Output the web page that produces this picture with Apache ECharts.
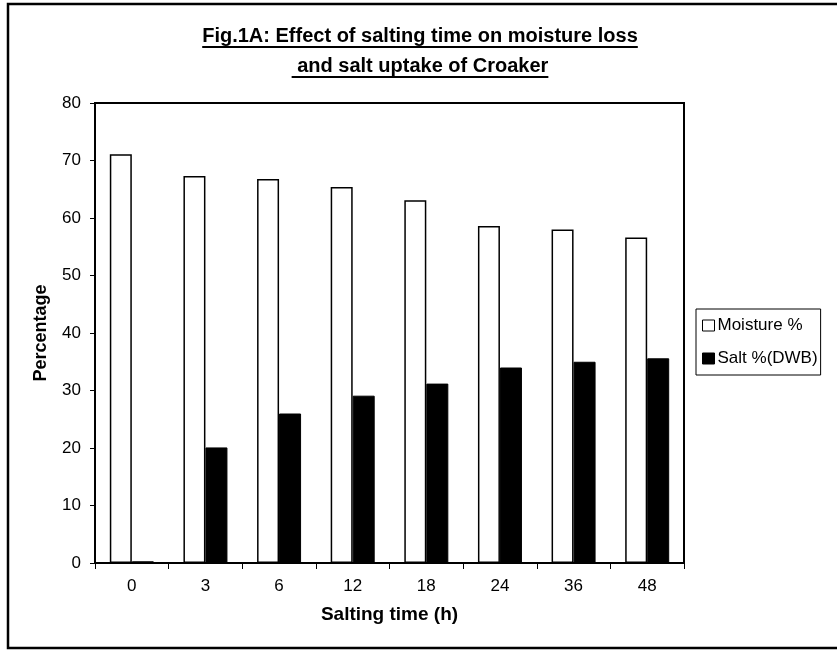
<!DOCTYPE html>
<html>
<head>
<meta charset="utf-8">
<script src="https://cdn.jsdelivr.net/npm/echarts@6/dist/echarts.min.js"></script>
<style>
  html, body { margin: 0; padding: 0; background: #fff; }
  #chart { width: 837px; height: 650px; }
</style>
</head>
<body>
<div id="chart"></div>
<script>
const categories = ['0', '3', '6', '12', '18', '24', '36', '48']
const moisture = [71.1, 67.3, 66.8, 65.4, 63.1, 58.6, 58.0, 56.6]
const salt = [0.3, 20.1, 26.0, 29.1, 31.2, 34.0, 35.0, 35.6]
const titleLines = ['Fig.1A: Effect of salting time on moisture loss', ' and salt uptake of Croaker']

const FONT = '"Liberation Sans", Arial, sans-serif'
const titleFont = 'bold 20px ' + FONT

// width of a title line, for the underline
const measure = (txt) => {
  const ctx = document.createElement('canvas').getContext('2d')
  ctx.font = titleFont
  return ctx.measureText(txt).width
}

const titleCenter = 420
const titleY = [36, 66]
const titleGraphics = []
titleLines.forEach((txt, i) => {
  const w = measure(txt)
  titleGraphics.push({
    type: 'text',
    x: titleCenter,
    y: titleY[i],
    style: {
      text: txt,
      font: titleFont,
      fill: '#000',
      align: 'center',
      verticalAlign: 'middle'
    }
  })
  titleGraphics.push({
    type: 'line',
    shape: { x1: titleCenter - w / 2, y1: titleY[i] + 11, x2: titleCenter + w / 2, y2: titleY[i] + 11 },
    style: { stroke: '#000', lineWidth: 2 }
  })
})

const chart = echarts.init(document.getElementById('chart'))
const options = {
  animation: false,
  backgroundColor: '#fff',
  textStyle: { fontFamily: FONT, color: '#000' },
  graphic: [
    {
      type: 'rect',
      shape: { x: 8, y: 4, width: 850, height: 644 },
      style: { fill: 'none', stroke: '#000', lineWidth: 2.5 },
      silent: true
    },
    ...titleGraphics
  ],
  grid: {
    left: 95,
    right: 153,
    top: 103,
    bottom: 87,
    show: true,
    borderColor: '#000',
    borderWidth: 2
  },
  legend: {
    orient: 'vertical',
    left: 696,
    top: 309,
    padding: [8, 3, 8, 6],
    itemGap: 16,
    itemWidth: 12,
    itemHeight: 11,
    borderColor: '#000',
    borderWidth: 1,
    icon: 'rect',
    textStyle: { fontSize: 17, color: '#000', fontFamily: FONT, padding: [0, 0, 0, -2] },
    data: [
      { name: 'Moisture %', itemStyle: { color: '#fff', borderColor: '#000', borderWidth: 1 } },
      { name: 'Salt %(DWB)', itemStyle: { color: '#000', borderColor: '#000', borderWidth: 1 } }
    ]
  },
  xAxis: {
    type: 'category',
    data: categories,
    name: 'Salting time (h)',
    nameLocation: 'middle',
    nameGap: 42,
    nameTextStyle: { fontSize: 19, fontWeight: 'bold', color: '#000', fontFamily: FONT },
    axisLine: { lineStyle: { color: '#000', width: 2 } },
    axisTick: { show: true, length: 6, lineStyle: { color: '#000', width: 1 } },
    axisLabel: { fontSize: 17, color: '#000', margin: 15, fontFamily: FONT }
  },
  yAxis: {
    type: 'value',
    min: 0,
    max: 80,
    interval: 10,
    name: 'Percentage',
    nameLocation: 'middle',
    nameGap: 45,
    nameTextStyle: { fontSize: 18, fontWeight: 'bold', color: '#000', fontFamily: FONT },
    splitLine: { show: false },
    axisLine: { show: true, lineStyle: { color: '#000', width: 2 } },
    axisTick: { show: true, length: 5, lineStyle: { color: '#000', width: 1 } },
    axisLabel: { fontSize: 17, color: '#000', margin: 14, fontFamily: FONT }
  },
  series: [
    {
      name: 'Moisture %',
      type: 'bar',
      data: moisture,
      barWidth: 22,
      barGap: '0%',
      itemStyle: { color: '#fff', borderColor: '#000', borderWidth: 1.5 }
    },
    {
      name: 'Salt %(DWB)',
      type: 'bar',
      data: salt,
      barWidth: 22,
      barGap: '0%',
      itemStyle: { color: '#000', borderColor: '#000', borderWidth: 1 }
    }
  ]
}
chart.setOption(options)
window.addEventListener('resize', function () {
  chart.resize()
})
</script>
</body>
</html>
